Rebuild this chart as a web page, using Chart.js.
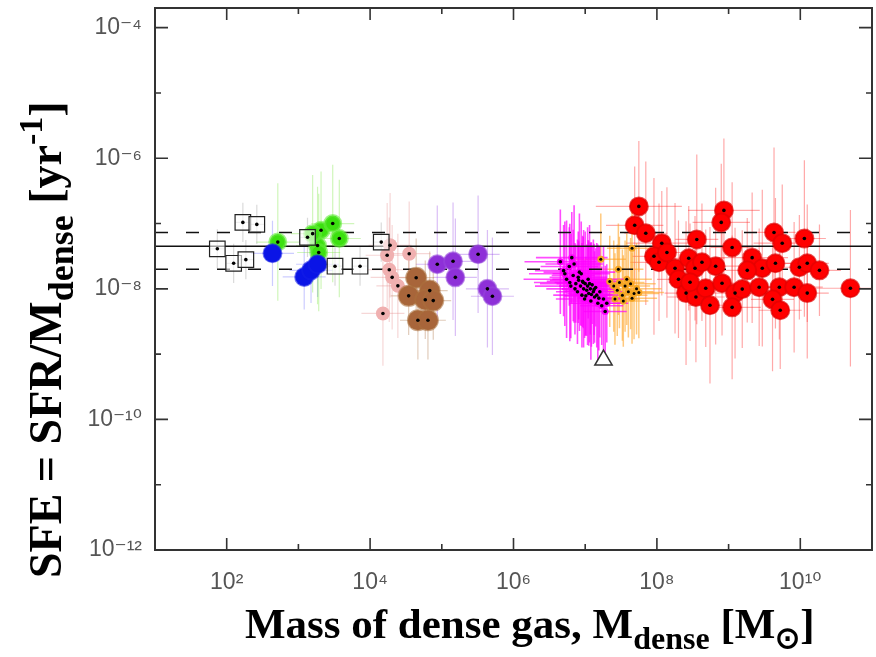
<!DOCTYPE html>
<html>
<head>
<meta charset="utf-8">
<script src="https://cdn.jsdelivr.net/npm/chart.js@4.4.0/dist/chart.umd.min.js"></script>
<style>
  html, body { margin: 0; padding: 0; background: #fff; }
</style>
</head>
<body>
<canvas id="c" width="876" height="657"></canvas>
<script>
// axis ticks
const xTicks = [1e2, 1e4, 1e6, 1e8, 1e10];
const xMinor = [1e3, 1e5, 1e7, 1e9];
const yTicks = [1e-4, 1e-6, 1e-8, 1e-10, 1e-12];
const yMinor = [1e-5, 1e-7, 1e-9, 1e-11];

// mean SFE and its spread (horizontal lines)
const lineMass = [10, 1e11];
const sfeMean = 4.5e-8, sfeHigh = 7.3e-8, sfeLow = 2.0e-8;

// open squares
const boxMass = [74, 125, 185, 168, 263, 1340, 3240, 7240, 14300];
const boxSfe = [4.1e-8, 2.46e-8, 2.8e-8, 1.04e-7, 9.7e-8, 6.15e-8, 2.22e-8, 2.22e-8, 5.2e-8];

// green
const greenMass = [516, 2070, 3010, 3720, 1850, 1920, 1580];
const greenSfe = [5.2e-8, 7.9e-8, 1.0e-7, 5.9e-8, 4.6e-8, 3.6e-8, 7.0e-8];

// blue
const blueMass = [435, 1205, 1500, 1850];
const blueSfe = [3.5e-8, 1.52e-8, 1.92e-8, 2.38e-8];

// pink
const pinkMass = [19000, 17300, 35100, 18500, 20300, 24400, 15100];
const pinkSfe = [4.65e-8, 3.27e-8, 3.45e-8, 1.96e-8, 1.5e-8, 1.11e-8, 4.2e-9];

// brown
const brownMass = [43900, 34500, 67900, 58800, 46400, 64100, 76000];
const brownSfe = [1.48e-8, 7.8e-9, 9.4e-9, 6.8e-9, 3.3e-9, 3.3e-9, 6.6e-9];

// purple
const purpleMass = [86500, 143500, 154600, 320800, 432800, 508000];
const purpleSfe = [2.38e-8, 2.64e-8, 1.5e-8, 3.38e-8, 1.0e-8, 7.7e-9];

// magenta cluster
const magMass = [4.5e6, 5.0e6, 5.5e6, 6.0e6, 6.3e6, 6.8e6, 7.0e6, 7.4e6, 7.8e6, 8.0e6,
  8.3e6, 8.6e6, 9.0e6, 9.2e6, 9.5e6, 9.8e6, 1.0e7, 1.05e7, 1.1e7, 1.12e7,
  1.18e7, 1.2e7, 1.25e7, 1.3e7, 1.35e7, 1.4e7, 1.45e7, 1.5e7, 1.6e7, 1.7e7,
  1.8e7, 1.9e7, 2.0e7, 6.5e6, 8.8e6, 1.15e7, 1.02e7, 7.2e6, 5.2e6, 9.4e6,
  1.08e7, 1.22e7, 8.1e6, 1.33e7, 6.1e6, 1.55e7];
const magSfe = [2.6e-8, 1.9e-8, 1.4e-8, 2.2e-8, 1.1e-8, 1.6e-8, 2.4e-8, 1.2e-8, 9.0e-9, 1.5e-8,
  1.8e-8, 1.1e-8, 8.0e-9, 1.3e-8, 1.0e-8, 7.0e-9, 1.2e-8, 9.5e-9, 1.4e-8, 8.5e-9,
  1.0e-8, 6.5e-9, 1.15e-8, 9.0e-9, 7.5e-9, 1.05e-8, 8.0e-9, 6.0e-9, 9.0e-9, 5.5e-9,
  7.0e-9, 4.5e-9, 6.0e-9, 3.0e-8, 1.7e-8, 1.2e-8, 7.8e-9, 1.0e-8, 1.7e-8, 1.25e-8,
  1.1e-8, 8.2e-9, 1.35e-8, 9.8e-9, 1.25e-8, 7.2e-9];
const magErrY = [0.8, 0.7, 0.9, 0.6, 0.8, 0.7, 0.9, 0.6, 0.8, 0.7, 0.9, 0.6, 0.8, 0.7, 0.9, 0.6, 0.8, 0.7, 0.6, 0.8,
  0.7, 0.9, 0.6, 0.8, 0.7, 0.6, 0.8, 0.9, 0.7, 0.6, 0.8, 0.7, 0.6, 0.7, 0.8, 0.9, 0.6, 0.7, 0.8, 0.7,
  0.9, 0.8, 0.6, 0.7, 0.9, 0.8];
const magErrX = [0.5, 0.4, 0.6, 0.4, 0.5, 0.3, 0.4, 0.5, 0.3, 0.4, 0.5, 0.3, 0.4, 0.5, 0.3, 0.4, 0.4, 0.3, 0.5, 0.3,
  0.4, 0.3, 0.3, 0.4, 0.3, 0.3, 0.3, 0.4, 0.3, 0.3, 0.3, 0.3, 0.3, 0.5, 0.4, 0.3, 0.3, 0.4, 0.5, 0.4,
  0.3, 0.3, 0.4, 0.3, 0.5, 0.3];

// orange
const orangeMass = [2.2e7, 2.5e7, 2.8e7, 3.0e7, 3.3e7, 3.6e7, 4.0e7, 4.3e7, 4.8e7, 5.2e7,
  2.6e7, 3.4e7, 4.5e7, 5.6e7, 3.8e7, 2.9e7, 4.5e7, 1.65e7];
const orangeSfe = [1.3e-8, 1.1e-8, 9.5e-9, 1.25e-8, 8.0e-9, 1.1e-8, 9.0e-9, 1.2e-8, 8.5e-9, 1.0e-8,
  7.0e-9, 6.5e-9, 7.2e-9, 8.8e-9, 1.4e-8, 2.0e-8, 4.2e-8, 2.84e-8];

// red galaxies
const redMass = [5.6e7, 4.9e7, 7.0e7, 1.17e8, 9.1e7, 1.07e8, 1.79e8, 2.78e8, 3.6e8, 8.6e8,
  7.9e8, 1.12e9, 3.4e8, 6.6e8, 2.0e8, 2.55e8, 3.5e8, 4.8e8, 5.5e8, 8.1e8,
  1.23e9, 1.55e9, 1.12e9, 2.13e9, 2.67e9, 2.95e9, 4.3e9, 5.6e9, 4.5e9, 5.1e9,
  4.1e9, 5.25e9, 8.2e9, 9.7e9, 1.25e10, 1.14e10, 1.85e10, 1.25e10, 5.0e10, 4.25e8,
  1.38e8, 1.82e9, 2.9e8];
const redSfe = [1.83e-7, 9.4e-8, 7.1e-8, 5.0e-8, 3.15e-8, 2.55e-8, 2.07e-8, 2.94e-8, 5.7e-8, 1.59e-7,
  1.04e-7, 4.3e-8, 2.07e-8, 2.22e-8, 1.4e-8, 8.6e-9, 7.5e-9, 1.02e-8, 5.6e-9, 1.22e-8,
  8.6e-9, 9.9e-9, 5.2e-9, 3.0e-8, 1.06e-8, 2.07e-8, 7.3e-8, 5.0e-8, 2.46e-8, 1.06e-8,
  6.9e-9, 4.7e-9, 1.06e-8, 2.14e-8, 2.46e-8, 5.9e-8, 1.92e-8, 8.6e-9, 1.02e-8, 2.55e-8,
  3.6e-8, 1.92e-8, 1.26e-8];
const redErrY = [1.0, 0.9, 1.1, 0.8, 1.2, 0.9, 1.0, 0.8, 1.3, 1.1, 0.9, 1.0, 0.8, 1.2, 0.9, 1.1, 1.0, 0.9, 1.2, 0.8,
  1.0, 0.9, 1.1, 1.0, 0.9, 1.2, 1.3, 0.9, 1.0, 0.8, 1.1, 0.9, 1.0, 0.8, 0.9, 1.2, 0.7, 1.0, 1.2, 0.9,
  1.0, 0.8, 0.9];
const redErrX = [0.6, 0.4, 0.3, 0.5, 0.3, 0.4, 0.3, 0.5, 0.3, 0.5, 0.4, 0.3, 0.3, 0.4, 0.3, 0.3, 0.4, 0.3, 0.3, 0.4,
  0.3, 0.3, 0.4, 0.5, 0.3, 0.3, 0.3, 0.4, 0.3, 0.3, 0.3, 0.3, 0.4, 0.3, 0.3, 0.3, 0.3, 0.3, 0.6, 0.3,
  0.3, 0.4, 0.3];

// lone triangle
const triMass = [1.8e7];
const triSfe = [8.1e-10];

const pts = (xs, ys) => xs.map((x, i) => ({ x: x, y: ys[i] }));
const sup = { '-': '\u207B', '0': '\u2070', '1': '\u00B9', '2': '\u00B2', '4': '\u2074', '6': '\u2076', '8': '\u2078' };
const tickLabel = v => '10' + String(Math.round(Math.log10(v))).split('').map(c => sup[c]).join('');

// error bars in dex, drawn under the markers
const errorBars = {
  id: 'errorBars',
  beforeDatasetsDraw(chart) {
    const { ctx, chartArea: a, scales: { x, y } } = chart;
    ctx.save();
    ctx.beginPath();
    ctx.rect(a.left, a.top, a.right - a.left, a.bottom - a.top);
    ctx.clip();
    chart.data.datasets.forEach(ds => {
      if (ds.errX === undefined) return;
      ctx.strokeStyle = ds.errColor;
      ctx.lineWidth = ds.errWidth || 1.2;
      ds.data.forEach((p, i) => {
        const ex = Array.isArray(ds.errX) ? ds.errX[i] : ds.errX;
        const ey = Array.isArray(ds.errY) ? ds.errY[i] : ds.errY;
        const px = x.getPixelForValue(p.x), py = y.getPixelForValue(p.y);
        ctx.beginPath();
        ctx.moveTo(x.getPixelForValue(p.x / Math.pow(10, ex)), py);
        ctx.lineTo(x.getPixelForValue(p.x * Math.pow(10, ex)), py);
        ctx.moveTo(px, y.getPixelForValue(p.y / Math.pow(10, ey)));
        ctx.lineTo(px, y.getPixelForValue(p.y * Math.pow(10, ey)));
        ctx.stroke();
      });
    });
    ctx.restore();
  }
};

// black dots in the middle of the symbols, box frame with inward ticks
const dotsAndFrame = {
  id: 'dotsAndFrame',
  afterDatasetsDraw(chart) {
    const { ctx, chartArea: a, scales: { x, y } } = chart;
    ctx.save();
    ctx.fillStyle = '#000';
    chart.data.datasets.forEach((ds, i) => {
      if (!ds.dot) return;
      chart.getDatasetMeta(i).data.forEach(el => {
        ctx.beginPath();
        ctx.arc(el.x, el.y, ds.dot, 0, Math.PI * 2);
        ctx.fill();
      });
    });
    ctx.strokeStyle = '#333';
    ctx.lineWidth = 2;
    ctx.strokeRect(a.left, a.top, a.right - a.left, a.bottom - a.top);
    ctx.lineWidth = 1.6;
    ctx.beginPath();
    const xt = (v, len) => {
      const px = x.getPixelForValue(v);
      ctx.moveTo(px, a.bottom); ctx.lineTo(px, a.bottom - len);
      ctx.moveTo(px, a.top); ctx.lineTo(px, a.top + len);
    };
    const yt = (v, len) => {
      const py = y.getPixelForValue(v);
      ctx.moveTo(a.left, py); ctx.lineTo(a.left + len, py);
      ctx.moveTo(a.right, py); ctx.lineTo(a.right - len, py);
    };
    xTicks.forEach(v => xt(v, 12));
    xMinor.forEach(v => xt(v, 6));
    yTicks.forEach(v => yt(v, 13));
    yMinor.forEach(v => yt(v, 6));
    ctx.stroke();
    ctx.restore();
  }
};

// axis titles with sub/superscripts
function drawRich(ctx, parts) {
  let cx = 0;
  parts.forEach(p => {
    ctx.font = 'bold ' + p.size + 'px "Liberation Serif", "Times New Roman", serif';
    ctx.fillText(p.text, cx, p.dy || 0);
    cx += ctx.measureText(p.text).width;
  });
}
const titles = {
  id: 'titles',
  afterDraw(chart) {
    const ctx = chart.ctx;
    ctx.save();
    ctx.fillStyle = '#000';
    ctx.translate(245, 638);
    drawRich(ctx, [
      { text: 'Mass of dense gas, M', size: 43 },
      { text: 'dense', size: 32, dy: 11 },
      { text: ' [M', size: 43 },
      { text: '\u2299', size: 30, dy: 10 },
      { text: ']', size: 43 }
    ]);
    ctx.restore();
    ctx.save();
    ctx.fillStyle = '#000';
    ctx.translate(61, 578);
    ctx.rotate(-Math.PI / 2);
    drawRich(ctx, [
      { text: 'SFE = SFR/M', size: 46 },
      { text: 'dense', size: 36, dy: 12 },
      { text: ' [yr', size: 46 },
      { text: '-1', size: 34, dy: -19 },
      { text: ']', size: 46 }
    ]);
    ctx.restore();
  }
};

const tickFont = { family: '"Liberation Sans", "DejaVu Sans", sans-serif', size: 23 };

new Chart(document.getElementById('c').getContext('2d'), {
  type: 'scatter',
  data: {
    datasets: [
      { data: pts(redMass, redSfe), pointRadius: 9, backgroundColor: '#ff0000', borderColor: 'rgba(225,0,0,0.7)', borderWidth: 2,
        errX: redErrX, errY: redErrY, errColor: 'rgba(255,40,40,0.4)', dot: 1.8, order: 1 },
      { data: pts(orangeMass, orangeSfe), pointRadius: 3.5, backgroundColor: '#f5a623', borderWidth: 0,
        errX: 0.35, errY: 0.7, errColor: 'rgba(255,165,40,0.6)', errWidth: 1.5, dot: 1.5, order: 2 },
      { data: pts(magMass, magSfe), pointRadius: 3.5, backgroundColor: '#ff00ff', borderWidth: 0,
        errX: magErrX, errY: magErrY, errColor: 'rgba(255,0,255,0.7)', errWidth: 1.6, dot: 1.8, order: 3 },
      { data: pts(purpleMass, purpleSfe), pointRadius: 9, backgroundColor: '#8e30d8', borderColor: 'rgba(150,70,220,0.6)', borderWidth: 2,
        errX: 0.3, errY: 0.9, errColor: 'rgba(150,70,230,0.35)', dot: 1.8, order: 4 },
      { data: pts(brownMass, brownSfe), pointRadius: 10, backgroundColor: '#a8653a', borderColor: 'rgba(170,110,60,0.6)', borderWidth: 2,
        errX: 0.25, errY: 0.6, errColor: 'rgba(170,110,60,0.35)', dot: 1.8, order: 5 },
      { data: pts(pinkMass, pinkSfe), pointRadius: 7, backgroundColor: '#f0b0b0', borderWidth: 0,
        errX: 0.3, errY: 0.8, errColor: 'rgba(230,140,140,0.35)', dot: 1.8, order: 6 },
      { data: pts(blueMass, blueSfe), pointRadius: 9, backgroundColor: '#0a14e6', borderColor: 'rgba(20,30,230,0.6)', borderWidth: 2,
        errX: 0.3, errY: 0.5, errColor: 'rgba(90,90,255,0.3)', order: 7 },
      { data: pts(greenMass, greenSfe), pointRadius: 8, backgroundColor: '#3ce010', borderColor: 'rgba(100,235,60,0.6)', borderWidth: 3,
        errX: 0.3, errY: 0.9, errColor: 'rgba(120,230,60,0.35)', dot: 1.8, order: 8 },
      { data: pts(boxMass, boxSfe), pointStyle: 'rect', pointRadius: 11, backgroundColor: 'rgba(255,255,255,0.6)', borderColor: '#222', borderWidth: 1.2,
        errX: 0.1, errY: 0.3, errColor: 'rgba(150,150,150,0.35)', dot: 1.8, order: 0 },
      { data: pts(triMass, triSfe), pointStyle: 'triangle', pointRadius: 10, backgroundColor: '#fff', borderColor: '#333', borderWidth: 1.5, order: 0 },
      { data: pts(lineMass, [sfeMean, sfeMean]), showLine: true, pointRadius: 0, borderColor: '#111', borderWidth: 1.5, order: 20 },
      { data: pts(lineMass, [sfeHigh, sfeHigh]), showLine: true, pointRadius: 0, borderColor: '#111', borderWidth: 1.5, borderDash: [13, 18], order: 20 },
      { data: pts(lineMass, [sfeLow, sfeLow]), showLine: true, pointRadius: 0, borderColor: '#111', borderWidth: 1.5, borderDash: [13, 18], order: 20 }
    ]
  },
  options: {
    responsive: false,
    animation: false,
    layout: { autoPadding: false, padding: { top: 8, right: 4, left: 0, bottom: 0 } },
    plugins: { legend: { display: false }, tooltip: { enabled: false } },
    scales: {
      x: {
        type: 'logarithmic', min: 10, max: 1e11,
        afterBuildTicks: s => { s.ticks = xTicks.map(v => ({ value: v })); },
        afterFit: s => { s.height = 107; s.paddingLeft = 0; s.paddingRight = 0; },
        ticks: { callback: v => tickLabel(v), color: '#555', font: tickFont, padding: 19, maxRotation: 0, autoSkip: false },
        grid: { display: false, drawTicks: false },
        border: { display: false }
      },
      y: {
        type: 'logarithmic', min: 1e-12, max: 2e-4,
        afterBuildTicks: s => { s.ticks = yTicks.map(v => ({ value: v })); },
        afterFit: s => { s.width = 155; s.paddingTop = 0; s.paddingBottom = 0; },
        ticks: { callback: v => tickLabel(v), color: '#555', font: tickFont, padding: 13, autoSkip: false },
        grid: { display: false, drawTicks: false },
        border: { display: false }
      }
    }
  },
  plugins: [errorBars, dotsAndFrame, titles]
});
</script>
</body>
</html>
